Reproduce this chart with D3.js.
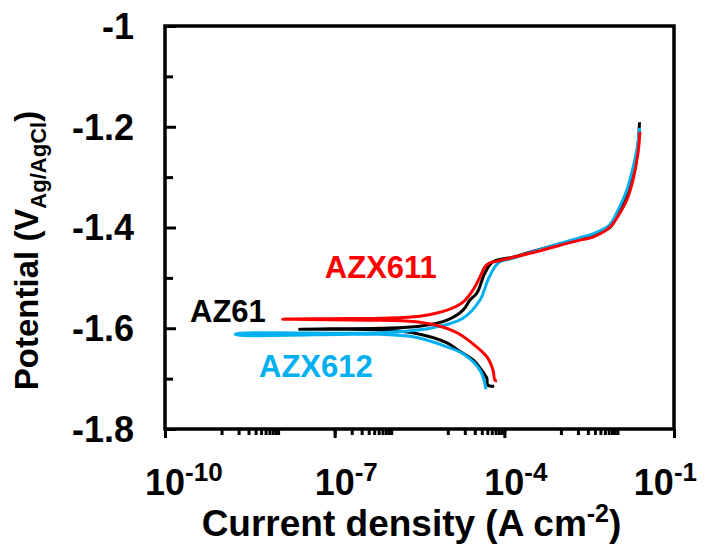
<!DOCTYPE html>
<html>
<head>
<meta charset="utf-8">
<script src="https://cdn.jsdelivr.net/npm/d3@7"></script>
<style>
    body { margin: 0; background: #fff; }
    svg text { font-family: Arial, "Liberation Sans", sans-serif; font-weight: bold; }
</style>
</head>
<body>
<div id="chart"></div>
<script>
// polarization curves, [current density (A cm-2), potential (V Ag/AgCl)]
// each series runs from the cathodic end, through Ecorr, up the anodic branch
const az61 = [
    [6.6e-5, -1.715], [5.1e-5, -1.713], [4.9e-5, -1.699], [4.2e-5, -1.687], [2.8e-5, -1.663],
    [1.5e-5, -1.643], [9.7e-6, -1.629], [2.4e-6, -1.609], [6.3e-7, -1.603], [8.3e-8, -1.602],
    [2.4e-8, -1.602], [8.3e-8, -1.601], [6.3e-7, -1.600], [3.2e-6, -1.596], [9.7e-6, -1.584],
    [1.86e-5, -1.564], [2.47e-5, -1.544], [3.28e-5, -1.530], [4.55e-5, -1.490], [6.3e-5, -1.468],
    [1.42e-4, -1.459], [2.84e-4, -1.449], [2.17e-3, -1.422], [3.6e-3, -1.416], [7.4e-3, -1.400],
    [1.1e-2, -1.364], [1.45e-2, -1.335], [1.85e-2, -1.295], [2.3e-2, -1.240], [2.45e-2, -1.191]
];
const azx611 = [
    [7.4e-5, -1.705], [6.8e-5, -1.703], [6.3e-5, -1.683], [4.93e-5, -1.657], [2.79e-5, -1.631],
    [1.46e-5, -1.609], [7.3e-6, -1.596], [3.2e-6, -1.588], [1.43e-6, -1.585], [4.2e-7, -1.584],
    [8.3e-8, -1.583], [1.2e-8, -1.582], [8.3e-8, -1.581], [6.3e-7, -1.580], [3.2e-6, -1.576],
    [9.7e-6, -1.564], [1.86e-5, -1.548], [2.79e-5, -1.524], [3.71e-5, -1.498], [4.55e-5, -1.478],
    [5.57e-5, -1.470], [7.4e-5, -1.467], [2.84e-4, -1.451], [2.17e-3, -1.425], [3.69e-3, -1.419],
    [7.4e-3, -1.399], [1.11e-2, -1.371], [1.47e-2, -1.345], [1.88e-2, -1.306], [2.31e-2, -1.252],
    [2.5e-2, -1.210]
];
const azx612 = [
    [4.73e-5, -1.721], [4.37e-5, -1.703], [3.71e-5, -1.683], [2.01e-5, -1.653], [9.7e-6, -1.637],
    [2.43e-6, -1.617], [6.3e-7, -1.612], [2.02e-7, -1.612], [2.12e-9, -1.614], [1.73e-9, -1.612],
    [2.12e-9, -1.610], [2.02e-7, -1.610], [6.3e-7, -1.609], [4.84e-6, -1.600], [1.86e-5, -1.580],
    [3.71e-5, -1.544], [5.14e-5, -1.504], [6.8e-5, -1.478], [8.4e-5, -1.468], [1.42e-4, -1.461],
    [2.84e-4, -1.450], [2.17e-3, -1.420], [3.6e-3, -1.413], [7.2e-3, -1.395], [1.08e-2, -1.360],
    [1.42e-2, -1.330], [1.8e-2, -1.290], [2.25e-2, -1.240], [2.45e-2, -1.202]
];
const seriesNames = ['AZ61', 'AZX611', 'AZX612'];
const seriesColors = ['#000000', '#ff0000', '#00b0f0'];

// axes
const xMajorTicks = [1e-10, 1e-7, 1e-4, 1e-1];
const xTickExponents = ['-10', '-7', '-4', '-1'];
const xMinorDecades = [1e-9, 1e-7, 1e-5, 1e-3];
const yMajorTicks = [-1.8, -1.6, -1.4, -1.2, -1];
const yTickLabels = ['-1.8', '-1.6', '-1.4', '-1.2', '-1'];
const yMinorTicks = [-1.7, -1.5, -1.3, -1.1];

class Tafel {

    constructor(_config) {
        this.config = {
            parentElement: _config.parentElement,
            containerWidth: _config.width,
            containerHeight: _config.height,
        }
        this.margin = _config.margin;
        this.initVis();
    }

    initVis() {
        let vis = this;
        vis.width = vis.config.containerWidth - vis.margin.left - vis.margin.right;
        vis.height = vis.config.containerHeight - vis.margin.top - vis.margin.bottom;

        vis.xScale = d3.scaleLog()
            .domain([1e-10, 1e-1])
            .range([0, vis.width]);
        vis.yScale = d3.scaleLinear()
            .domain([-1.8, -1])
            .range([vis.height, 0]);

        vis.svg = d3.select(vis.config.parentElement)
            .append('svg')
            .attr('width', vis.config.containerWidth)
            .attr('height', vis.config.containerHeight)
            .append('g')
            .attr('transform', `translate(${vis.margin.left}, ${vis.margin.top})`);

        // minor x ticks: 1..10 x decade start
        let minor = [];
        xMinorDecades.forEach(d => {
            for (let k = 1; k <= 10; k++) minor.push(k * d);
        });
        vis.xMinorAxis = d3.axisBottom(vis.xScale).tickValues(minor).tickFormat('').tickSize(6).tickSizeOuter(0);
        vis.xAxis = d3.axisBottom(vis.xScale).tickValues(xMajorTicks).tickFormat('').tickSize(9).tickSizeOuter(0);
        vis.yMinorAxis = d3.axisLeft(vis.yScale).tickValues(yMinorTicks).tickFormat('').tickSize(-8).tickSizeOuter(0);
        vis.yAxis = d3.axisLeft(vis.yScale).tickValues(yMajorTicks).tickFormat('').tickSize(-11).tickSizeOuter(0);
    }

    renderVis() {
        let vis = this;
        const axisStyle = (g) => {
            g.select('.domain').remove();
            g.selectAll('line').attr('stroke', '#000').attr('stroke-width', 3);
        };
        vis.svg.append('g').attr('transform', `translate(0, ${vis.height})`).call(vis.xMinorAxis).call(axisStyle);
        vis.svg.append('g').attr('transform', `translate(0, ${vis.height})`).call(vis.xAxis).call(axisStyle);
        vis.svg.append('g').call(vis.yMinorAxis).call(axisStyle);
        vis.svg.append('g').call(vis.yAxis).call(axisStyle);

        // frame
        vis.svg.append('rect')
            .attr('width', vis.width)
            .attr('height', vis.height)
            .attr('fill', 'none')
            .attr('stroke', '#000')
            .attr('stroke-width', 3.5);

        // y tick labels
        vis.svg.selectAll('.ylab')
            .data(yMajorTicks)
            .join('text')
            .attr('class', 'ylab')
            .attr('x', -31)
            .attr('y', d => vis.yScale(d))
            .attr('dy', '0.36em')
            .attr('text-anchor', 'end')
            .attr('font-size', 36)
            .text((d, i) => yTickLabels[i]);

        // x tick labels, 10 with superscript exponent
        xMajorTicks.forEach((v, i) => {
            let t = vis.svg.append('text')
                .attr('y', vis.height + 66)
                .attr('font-size', 36);
            let base = t.append('tspan').text('10');
            t.append('tspan').attr('dy', -14).attr('font-size', 26).text(xTickExponents[i]);
            let x = vis.xScale(v) - base.node().getComputedTextLength() / 2;
            let w = t.node().getComputedTextLength();
            let maxRight = vis.config.containerWidth - vis.margin.left - 17;
            if (x + w > maxRight) x = maxRight - w;
            t.attr('x', x);
        });

        // axis titles
        let xt = vis.svg.append('text')
            .attr('x', vis.width / 2 - 8)
            .attr('y', vis.height + 107)
            .attr('text-anchor', 'middle')
            .attr('font-size', 37);
        xt.append('tspan').text('Current density (A cm');
        xt.append('tspan').attr('dy', -14).attr('font-size', 25).text('-2');
        xt.append('tspan').attr('dy', 14).text(')');

        let yt = vis.svg.append('text')
            .attr('transform', `translate(${-vis.margin.left + 38}, ${vis.height / 2 + 23}) rotate(-90)`)
            .attr('text-anchor', 'middle')
            .attr('font-size', 33);
        yt.append('tspan').text('Potential (V');
        yt.append('tspan').attr('dy', 8).attr('font-size', 22).text('Ag/AgCl');
        yt.append('tspan').attr('dy', -8).text(')');

        // curves
        const line = d3.line()
            .x(d => vis.xScale(d[0]))
            .y(d => vis.yScale(d[1]))
            .curve(d3.curveCatmullRom.alpha(0.5));
        const series = [az61, azx612, azx611];
        const colors = [seriesColors[0], seriesColors[2], seriesColors[1]];
        series.forEach((s, i) => {
            vis.svg.append('path')
                .datum(s)
                .attr('fill', 'none')
                .attr('stroke', colors[i])
                .attr('stroke-width', 3)
                .attr('stroke-linejoin', 'round')
                .attr('d', line);
        });

        // series labels
        const labelPos = [[2.77e-10, -1.588], [6.7e-8, -1.5], [4.6e-9, -1.697]];
        seriesNames.forEach((n, i) => {
            vis.svg.append('text')
                .attr('x', vis.xScale(labelPos[i][0]))
                .attr('y', vis.yScale(labelPos[i][1]))
                .attr('font-size', 31)
                .attr('fill', seriesColors[i])
                .text(n);
        });
    }
}

const chart = new Tafel({
    parentElement: '#chart',
    width: 714,
    height: 545,
    margin: {top: 26, right: 40, bottom: 116, left: 165}
});
chart.renderVis();
</script>
</body>
</html>
